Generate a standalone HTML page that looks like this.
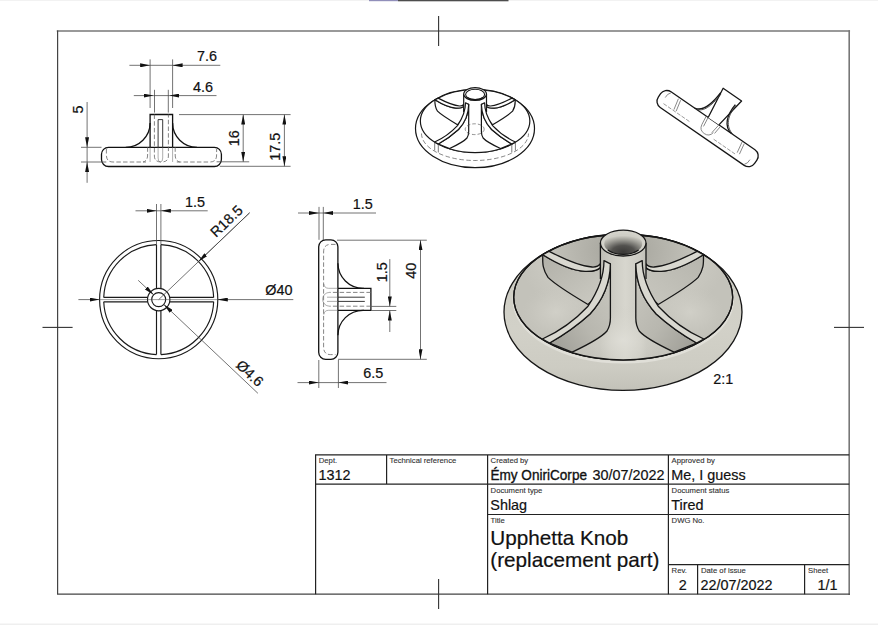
<!DOCTYPE html>
<html><head><meta charset="utf-8">
<style>
html,body{margin:0;padding:0;background:#fff;width:878px;height:625px;overflow:hidden}
svg{display:block}
text{font-family:"Liberation Sans",sans-serif;fill:#111;stroke:#111;stroke-width:0.2px}
.s{font-size:7.7px;fill:#333;stroke:#333;stroke-width:0.12px}
.v{font-size:14.4px}
.d{font-size:14.4px;fill:#111}
</style></head><body>
<svg width="878" height="625" viewBox="0 0 878 625">
<defs>
<marker id="a" viewBox="0 0 10 4" refX="10" refY="2" markerWidth="10" markerHeight="4" markerUnits="userSpaceOnUse" orient="auto-start-reverse"><path d="M0 0 L10 2 L0 4 Z" fill="#111"/></marker>

<linearGradient id="gOuter" x1="0" y1="0" x2="0" y2="1">
 <stop offset="0" stop-color="#cccbc2"/><stop offset="0.6" stop-color="#d2d1c8"/><stop offset="0.85" stop-color="#cdccc3"/><stop offset="1" stop-color="#c3c2b9"/>
</linearGradient>
<radialGradient id="gInner" gradientUnits="userSpaceOnUse" cx="623" cy="250" r="105" gradientTransform="translate(623 250) scale(1 0.75) translate(-623 -250)">
 <stop offset="0" stop-color="#a2a199"/><stop offset="0.45" stop-color="#b7b6ae"/><stop offset="0.8" stop-color="#c8c7bf"/><stop offset="1" stop-color="#c3c2ba"/>
</radialGradient>
<linearGradient id="gFace" x1="0" y1="0" x2="1" y2="1">
 <stop offset="0" stop-color="#b1b0a8"/><stop offset="1" stop-color="#cccbc3"/>
</linearGradient>
<linearGradient id="gFaceR" x1="1" y1="0" x2="0" y2="1">
 <stop offset="0" stop-color="#b6b5ad"/><stop offset="1" stop-color="#c8c7bf"/>
</linearGradient>
<linearGradient id="gLL" x1="1" y1="0" x2="0" y2="1">
 <stop offset="0" stop-color="#cac9c1"/><stop offset="0.55" stop-color="#b8b7af"/><stop offset="1" stop-color="#9c9b94"/>
</linearGradient>
<linearGradient id="gLR" x1="0" y1="0" x2="1" y2="1">
 <stop offset="0" stop-color="#cac9c1"/><stop offset="0.55" stop-color="#b8b7af"/><stop offset="1" stop-color="#9c9b94"/>
</linearGradient>
<radialGradient id="gHi">
 <stop offset="0" stop-color="#d3d2ca" stop-opacity="0.85"/><stop offset="0.6" stop-color="#cecdc5" stop-opacity="0.4"/><stop offset="1" stop-color="#c8c7bf" stop-opacity="0"/>
</radialGradient>
<linearGradient id="gStem" gradientUnits="userSpaceOnUse" x1="572" y1="0" x2="674.4" y2="0">
 <stop offset="0" stop-color="#c6c5bd"/><stop offset="0.27" stop-color="#bdbcb4"/><stop offset="0.4" stop-color="#cdccc4"/><stop offset="0.52" stop-color="#d7d6ce"/><stop offset="0.66" stop-color="#cccbc3"/><stop offset="0.73" stop-color="#c0bfb7"/><stop offset="1" stop-color="#c7c6be"/>
</linearGradient>
<radialGradient id="gFloor" cx="0.5" cy="0.72" r="0.5">
 <stop offset="0" stop-color="#dfded7" stop-opacity="0.9"/><stop offset="0.6" stop-color="#d7d6ce" stop-opacity="0.4"/><stop offset="1" stop-color="#cdccc4" stop-opacity="0"/>
</radialGradient>
<radialGradient id="gHole" cx="0.5" cy="0.85" r="0.75" fx="0.5" fy="0.9">
 <stop offset="0" stop-color="#3a3937"/><stop offset="0.4" stop-color="#52514e"/><stop offset="0.75" stop-color="#9e9d96"/><stop offset="1" stop-color="#cfcec6"/>
</radialGradient>
</defs>

<rect x="0" y="0" width="878" height="625" fill="#fff"/>
<!-- top scrollbar strip -->
<rect x="0" y="0" width="878" height="1" fill="#f2f2f2"/>
<rect x="369" y="0" width="29" height="1.2" fill="#918fba"/>
<rect x="398" y="0" width="110.5" height="1.3" fill="#4d4d4d"/>
<!-- bottom strip -->
<rect x="0" y="623.5" width="878" height="1.5" fill="#efefef"/>

<!-- frame -->
<g fill="none" stroke-linecap="square">
<path d="M57.6 31 H849.2" stroke="#777" stroke-width="1.7"/>
<path d="M849.2 31 V594.2" stroke="#777" stroke-width="1.6"/>
<path d="M57.6 31 V594.2 H849.2" stroke="#444" stroke-width="1.2"/>
</g>
<!-- centre marks -->
<g stroke="#333" stroke-width="1.1" fill="none">
<path d="M438.6 16 V46"/>
<path d="M438.6 579 V609"/>
<path d="M42.5 327.4 H72.6"/>
<path d="M834 327.4 H864"/>
</g>

<!-- title block -->
<g stroke="#222" stroke-width="1.2" fill="none">
<path d="M315.6 594.2 V454.9 H849.2"/>
<path d="M386.6 454.9 V484.1"/>
<path d="M487.6 454.9 V594.2"/>
<path d="M668.4 454.9 V594.2"/>
<path d="M315.6 484.1 H849.2"/>
<path d="M487.6 514.5 H849.2"/>
<path d="M668.4 564.7 H849.2"/>
<path d="M697.6 564.7 V594.2"/>
<path d="M804.6 564.7 V594.2"/>
</g>
<text class="s" x="318.8" y="463.4">Dept.</text>
<text class="v" x="318.6" y="479.6">1312</text>
<text class="s" x="389.6" y="463.1">Technical reference</text>
<text class="s" x="490.6" y="463.4">Created by</text>
<text class="v" x="490.4" y="479.8" textLength="96.6" lengthAdjust="spacingAndGlyphs" style="stroke:#111;stroke-width:0.35">Émy OniriCorpe</text>
<text class="v" x="592.4" y="479.8">30/07/2022</text>
<text class="s" x="671.6" y="463.4">Approved by</text>
<text class="v" x="671.2" y="479.8">Me, I guess</text>
<text class="s" x="490.6" y="493">Document type</text>
<text class="v" x="490.3" y="509.6">Shlag</text>
<text class="s" x="671.6" y="493">Document status</text>
<text class="v" x="671.2" y="509.6">Tired</text>
<text class="s" x="490.6" y="523">Title</text>
<text style="font-size:20.7px" x="490.3" y="545.2">Upphetta Knob</text>
<text style="font-size:20.7px" x="490.3" y="566.6">(replacement part)</text>
<text class="s" x="671.6" y="523">DWG No.</text>
<text class="s" x="671.6" y="573">Rev.</text>
<text class="v" x="678.8" y="590">2</text>
<text class="s" x="701" y="573">Date of issue</text>
<text class="v" x="700.5" y="590">22/07/2022</text>
<text class="s" x="808" y="573">Sheet</text>
<text class="v" x="817.5" y="590">1/1</text>


<!-- ===== View 1: front view ===== -->
<g fill="none" stroke="#111" stroke-width="1.3">
<path d="M150.1 147.3 V114.5 H172.6 V147.3"/>
<path d="M150.1 123 A24.4 24.4 0 0 1 125.7 147.3"/>
<path d="M172.6 123 A24.4 24.4 0 0 0 197 147.3"/>
<rect x="101.5" y="147.3" width="119.9" height="19.2" rx="7" ry="7"/>
</g>
<g fill="none" stroke="#222" stroke-width="0.9">
<path d="M158.1 147.3 V119.6 H162.7 V147.3"/>
</g>
<g fill="none" stroke="#777" stroke-width="0.6">
<path d="M150.1 147.3 V162 M172.6 147.3 V162"/>
<path d="M158.1 147.3 V158 Q158.1 162 160.4 162 Q162.7 162 162.7 158 V147.3"/>
</g>
<g fill="none" stroke="#666" stroke-width="0.8" stroke-dasharray="4.5 2.2">
<path d="M154.4 114.5 V156 Q154.4 162 161.4 162 Q168.4 162 168.4 156 V114.5"/>
<path d="M106.4 149 V155 Q106.4 162 113 162 H146"/>
<path d="M176.8 162 H210 Q216.6 162 216.6 155 V149"/>
<path d="M147.6 147.3 V155 Q147.6 161 143 162"/>
<path d="M175.2 147.3 V155 Q175.2 161 179.8 162"/>
</g>
<!-- dims view1 -->
<g fill="none" stroke="#444" stroke-width="0.75">
<path d="M150.1 59.4 V108"/><path d="M172.6 59.4 V108"/>
<path d="M154.5 89.8 V112.6"/><path d="M168.3 89.8 V112.6"/>
<path d="M129.4 65.3 H150.1" marker-end="url(#a)"/>
<path d="M220.3 65.3 H172.6" marker-end="url(#a)"/>
<path d="M150.1 65.3 H172.6"/>
<path d="M133.8 95.6 H153.5" marker-end="url(#a)"/>
<path d="M216.5 95.6 H169.3" marker-end="url(#a)"/>
<path d="M153.5 95.6 H169.3"/>
<path d="M81 147.3 H101.5"/><path d="M81 162 H106.3"/>
<path d="M87.1 102 V147.3" marker-end="url(#a)"/>
<path d="M87.1 182.8 V162" marker-end="url(#a)"/>
<path d="M87.1 147.3 V162"/>
<path d="M179 114.6 H290.6"/>
<path d="M216.6 161.8 H249.2"/>
<path d="M219.8 166.3 H290.6"/>
<path d="M243.2 138 V114.6" marker-end="url(#a)"/>
<path d="M243.2 138 V161.8" marker-end="url(#a)"/>
<path d="M284.4 140 V114.6" marker-end="url(#a)"/>
<path d="M284.4 140 V166.3" marker-end="url(#a)"/>
</g>
<g class="d">
<text x="217" y="61.3" text-anchor="end">7.6</text>
<text x="213.1" y="91.6" text-anchor="end">4.6</text>
<text transform="translate(83 109.6) rotate(-90)" text-anchor="middle">5</text>
<text transform="translate(239.1 138.3) rotate(-90)" text-anchor="middle">16</text>
<text transform="translate(280.2 146.7) rotate(-90)" text-anchor="middle">17.5</text>
</g>

<!-- ===== View 2: top view ===== -->
<g fill="none" stroke="#1a1a1a" stroke-width="1.15">
<circle cx="158.7" cy="299.6" r="59.1"/>
<circle cx="158.7" cy="299.6" r="11.2"/>
<circle cx="158.7" cy="299.6" r="7"/>
<!-- inner arcs between spokes: r=55, spoke half-width 2.2 -> offset angle -->
<path d="M160.9 244.64 A55 55 0 0 1 213.66 297.4"/>
<path d="M213.66 301.8 A55 55 0 0 1 160.9 354.56"/>
<path d="M156.5 354.56 A55 55 0 0 1 103.74 301.8"/>
<path d="M103.74 297.4 A55 55 0 0 1 156.5 244.64"/>
<!-- spokes -->
<path d="M156.5 244.64 V288.63 M160.9 244.64 V288.63"/>
<path d="M156.5 310.57 V354.56 M160.9 310.57 V354.56"/>
<path d="M103.74 297.4 H147.73 M103.74 301.8 H147.73"/>
<path d="M169.67 297.4 H213.66 M169.67 301.8 H213.66"/>
</g>
<g fill="none" stroke="#444" stroke-width="0.75">
<path d="M156.5 204 V244.6"/><path d="M160.9 204 V244.6"/>
<path d="M135.5 210.8 H156.5" marker-end="url(#a)"/>
<path d="M207.7 210.8 H160.9" marker-end="url(#a)"/>
<path d="M156.5 210.8 H160.9"/>
<path d="M99.6 299.6 H217.8" stroke-width="0.5"/>
<path d="M78.4 299.6 H99.6" marker-end="url(#a)"/>
<path d="M293.3 299.6 H217.8" marker-end="url(#a)"/>
<path d="M158.7 299.6 L249.6 212.8"/>
<path d="M249.6 212.8 L198.5 261.6" marker-end="url(#a)"/>
<path d="M138.2 280.3 L153.6 294.8" marker-end="url(#a)"/>
<path d="M257.9 393.3 L163.8 304.4" marker-end="url(#a)"/>
</g>
<g class="d">
<text x="205.1" y="206.8" text-anchor="end">1.5</text>
<text x="292.4" y="294.8" text-anchor="end">Ø40</text>
<text transform="translate(229.8 224.8) rotate(-43.7)" text-anchor="middle">R18.5</text>
<text transform="translate(246.5 376.9) rotate(43.4)" text-anchor="middle">Ø4.6</text>
</g>

<!-- ===== View 3: side view ===== -->
<g fill="none" stroke="#111" stroke-width="1.3">
<rect x="318.7" y="239.8" width="19.2" height="119.5" rx="7" ry="7"/>
<path d="M337.9 263.3 A25.2 25.2 0 0 0 363.1 288.3 H370.9 V310.3 H363.1 A25.2 25.2 0 0 0 337.9 335.3"/>
<path d="M337.9 288.3 H364 M337.9 310.3 H364"/>
</g>
<g fill="none" stroke="#222" stroke-width="0.9">
<path d="M337.9 297.2 H364.8 M337.9 301.4 H364.8"/>
</g>
<g fill="none" stroke="#777" stroke-width="0.6">
<path d="M337.9 297.2 H327 M337.9 301.4 H327"/>
<path d="M337.9 288.3 H328.5 Q324.5 288.3 323.8 284"/>
<path d="M337.9 310.3 H328.5 Q324.5 310.3 323.8 314.6"/>
<path d="M329.5 292.4 A6.9 6.9 0 0 0 329.5 306.2"/>
</g>
<g fill="none" stroke="#666" stroke-width="0.8" stroke-dasharray="4.5 2.2">
<path d="M335.5 244.4 H330.5 Q323.6 244.4 323.6 252 V347 Q323.6 354.6 330.5 354.6 H335.5"/>
<path d="M370.9 292.4 H329.5 M370.9 306.2 H329.5"/>
</g>
<g fill="none" stroke="#444" stroke-width="0.75">
<path d="M319 206.9 V239.8"/><path d="M323.3 206.9 V240"/>
<path d="M298 213 H319" marker-end="url(#a)"/>
<path d="M376 213 H323.3" marker-end="url(#a)"/>
<path d="M319 213 H323.3"/>
<path d="M337 240.2 H426.8"/><path d="M338 359.3 H426.8"/>
<path d="M420.5 300 V240.2" marker-end="url(#a)"/>
<path d="M420.5 300 V359.3" marker-end="url(#a)"/>
<path d="M371.3 306.4 H396.3"/><path d="M371.3 310.5 H396.3"/>
<path d="M389.8 259.1 V306.4" marker-end="url(#a)"/>
<path d="M389.8 332 V310.5" marker-end="url(#a)"/>
<path d="M318.8 360 V388"/><path d="M338.4 360 V388"/>
<path d="M297.5 382.6 H318.8" marker-end="url(#a)"/>
<path d="M386.5 382.6 H338.4" marker-end="url(#a)"/>
<path d="M318.8 382.6 H338.4"/>
</g>
<g class="d">
<text x="372.8" y="208.5" text-anchor="end">1.5</text>
<text transform="translate(416.2 270.7) rotate(-90)" text-anchor="middle">40</text>
<text transform="translate(387.2 272.3) rotate(-90)" text-anchor="middle">1.5</text>
<text x="383.3" y="378" text-anchor="end">6.5</text>
</g>
<!-- ===== View 5: rotated side ===== -->
<g transform="translate(707.6 128.6) rotate(34.6)">
<g fill="none" stroke="#161616" stroke-width="1.3" stroke-linejoin="round">
<rect x="-58.5" y="-9.5" width="117" height="19" rx="7.5" ry="7.5" fill="#fff"/>
<path d="M-5.9 -9.5 L-10.1 -42 H12.3 L7.2 -9.5" fill="#fff"/>
<path d="M-9.6 -37 C-10.5 -20 -14 -11 -22.5 -9.5"/>
<path d="M9.2 -35.5 C8 -22 12 -11 22.6 -9.5"/>
</g>
<g fill="none" stroke="#333" stroke-width="0.75">
<path d="M-8.6 -36 C-9.8 -19 -13 -12 -20 -9.5"/>
<path d="M10.2 -35.5 C9.2 -22 13 -12 24.5 -9.5"/>
</g>
<g fill="none" stroke="#666" stroke-width="0.7">
<path d="M-5.9 -9.5 L-4.6 0.5 M-8.2 -9.5 L-7 0 M7.2 -9.5 L5.8 1 M9.4 -9.5 L8.5 0"/>
<path d="M-7 0 Q-6 6 0 6 Q6 6 7 0"/>
<path d="M-50.5 -8.5 Q-53 -6 -52.5 -1.5 M50.5 8.5 Q53 6 52.5 1.5"/>
<path d="M-41 -8 L-38.5 3.5 M-38.3 -8 L-35.8 3.5 M36 -8.5 L38 3 M38.7 -8.5 L40.7 3"/>
</g>
<g fill="none" stroke="#777" stroke-width="0.65" stroke-dasharray="4 1.5">
<path d="M-50.5 4.5 H-19 M11 5.3 H37"/>
</g>
</g>
<g transform="translate(163.5 -27.5) scale(0.5)">
<ellipse cx="623.0" cy="312.1" rx="119.0" ry="78.2" fill="#fff" stroke="#161616" stroke-width="2.4"/>
<ellipse cx="623.2" cy="297.2" rx="109.5" ry="62.7" fill="#fff" stroke="#161616" stroke-width="2.4"/>
<path d="M516 322 A107 54 0 0 0 730 322" fill="none" stroke="#555" stroke-width="1.4" stroke-dasharray="9 5"/>
<path d="M542.8 254.7 C556 263 570 270.5 585 271.4 C593 271.6 598 270.5 600.4 267.5 L603 290 L588 304.5 C572 295 556 285.4 548 277.4 C543 270 542.4 264.6 542.8 254.7 Z" fill="#fff" stroke="#161616" stroke-width="2.4" stroke-linejoin="round"/>
<path d="M542.8 254.7 L549.2 251.3 C562 258 578 266 592 267 C596 267.2 599 266 600.4 263.7 L600.4 267.5 C598 270.5 593 271.6 585 271.4 C570 270.5 556 263 542.8 254.7 Z" fill="#fff" stroke="#161616" stroke-width="2.4" stroke-linejoin="round"/>
<path d="M 703.40 254.70 C 690.20 263.00 676.20 270.50 661.20 271.40 C 653.20 271.60 648.20 270.50 645.80 267.50 L 643.20 290.00 L 658.20 304.50 C 674.20 295.00 690.20 285.40 698.20 277.40 C 703.20 270.00 703.80 264.60 703.40 254.70 Z" fill="#fff" stroke="#161616" stroke-width="2.4" stroke-linejoin="round"/>
<path d="M 703.40 254.70 L 697.00 251.30 C 684.20 258.00 668.20 266.00 654.20 267.00 C 650.20 267.20 647.20 266.00 645.80 263.70 L 645.80 267.50 C 648.20 270.50 653.20 271.60 661.20 271.40 C 676.20 270.50 690.20 263.00 703.40 254.70 Z" fill="#fff" stroke="#161616" stroke-width="2.4" stroke-linejoin="round"/>
<path d="M600.4 243.1 V300 L610.4 300 V318 C610.4 330 598 342 572 352.6 A109.5 62.7 0 0 0 674.4 352.6 C648 342 635.8 330 635.8 318 V300 H646 V243.1 Z" fill="#fff" stroke="none"/>
<path d="M600.4 243.1 V279 M646 243.1 V279" stroke="#161616" stroke-width="2.4" fill="none"/>
<path d="M610.4 290 V318 C610.4 330 598 342 572 352.6 A109.5 62.7 0 0 0 674.4 352.6 C648 342 635.8 330 635.8 318 V290 Z" fill="#fff" stroke="none"/>
<path d="M572 352.6 A109.5 62.7 0 0 0 674.4 352.6" fill="none" stroke="#161616" stroke-width="2.4"/>
<ellipse cx="623.2" cy="243.1" rx="22.8" ry="12.9" fill="#fff" stroke="#161616" stroke-width="2.4"/>
<ellipse cx="623.2" cy="243.9" rx="19.0" ry="10.4" fill="#fff" stroke="none"/>
<path d="M607.8 250 A19 10.4 0 0 0 638.6 250" fill="none" stroke="#161616" stroke-width="2.16"/>
<path d="M610.4 263.8 C610 285 603 300 590 314 C578 325 562 336 549.6 343 L572 352.2 C585 346 600 339 607 331 C610 326 610.4 322 610.4 318 Z" fill="#fff" stroke="#161616" stroke-width="2.4" stroke-linejoin="round"/>
<path d="M604 260.6 C604 275 599 290 588 306.2 C577 318 560 331 542.4 339 L549.6 343 C562 336 578 325 590 314 C603 300 610 285 610.4 263.8 Z" fill="#fff" stroke="#161616" stroke-width="2.4" stroke-linejoin="round"/>
<path d="M 635.80 263.80 C 636.20 285.00 643.20 300.00 656.20 314.00 C 668.20 325.00 684.20 336.00 696.60 343.00 L 674.20 352.20 C 661.20 346.00 646.20 339.00 639.20 331.00 C 636.20 326.00 635.80 322.00 635.80 318.00 Z" fill="#fff" stroke="#161616" stroke-width="2.4" stroke-linejoin="round"/>
<path d="M 642.20 260.60 C 642.20 275.00 647.20 290.00 658.20 306.20 C 669.20 318.00 686.20 331.00 703.80 339.00 L 696.60 343.00 C 684.20 336.00 668.20 325.00 656.20 314.00 C 643.20 300.00 636.20 285.00 635.80 263.80 Z" fill="#fff" stroke="#161616" stroke-width="2.4" stroke-linejoin="round"/>
<ellipse cx="623.2" cy="243.9" rx="19.0" ry="10.4" fill="none" stroke="#161616" stroke-width="2.16"/>
<ellipse cx="622.4" cy="313.4" rx="19" ry="10.8" fill="none" stroke="#555" stroke-width="1.3" stroke-dasharray="7 4"/>
<path d="M542.4 339 V356 M549.6 343 V360 M703.8 339 V356 M696.6 343 V360" fill="none" stroke="#333" stroke-width="1.3"/>
</g>
<g id="shaded">
<ellipse cx="623.0" cy="312.1" rx="119.0" ry="78.2" fill="url(#gOuter)" stroke="#161616" stroke-width="1.3"/>
<ellipse cx="623.2" cy="299.6" rx="109.5" ry="62.7" fill="none" stroke="#e0dfd8" stroke-width="2.6"/>
<ellipse cx="623.2" cy="297.2" rx="109.5" ry="62.7" fill="url(#gInner)" stroke="#161616" stroke-width="1.3"/>
<ellipse cx="556" cy="312" rx="34" ry="26" fill="url(#gHi)"/>
<ellipse cx="690" cy="312" rx="34" ry="26" fill="url(#gHi)"/>
<ellipse cx="623.2" cy="297.2" rx="109.5" ry="62.7" fill="none" stroke="#161616" stroke-width="1.3"/>
<path d="M542.8 254.7 C556 263 570 270.5 585 271.4 C593 271.6 598 270.5 600.4 267.5 L603 290 L588 304.5 C572 295 556 285.4 548 277.4 C543 270 542.4 264.6 542.8 254.7 Z" fill="url(#gFace)" stroke="#161616" stroke-width="1.3" stroke-linejoin="round"/>
<path d="M542.8 254.7 L549.2 251.3 C562 258 578 266 592 267 C596 267.2 599 266 600.4 263.7 L600.4 267.5 C598 270.5 593 271.6 585 271.4 C570 270.5 556 263 542.8 254.7 Z" fill="#d9d8d0" stroke="#161616" stroke-width="1.3" stroke-linejoin="round"/>
<path d="M 703.40 254.70 C 690.20 263.00 676.20 270.50 661.20 271.40 C 653.20 271.60 648.20 270.50 645.80 267.50 L 643.20 290.00 L 658.20 304.50 C 674.20 295.00 690.20 285.40 698.20 277.40 C 703.20 270.00 703.80 264.60 703.40 254.70 Z" fill="url(#gFaceR)" stroke="#161616" stroke-width="1.3" stroke-linejoin="round"/>
<path d="M 703.40 254.70 L 697.00 251.30 C 684.20 258.00 668.20 266.00 654.20 267.00 C 650.20 267.20 647.20 266.00 645.80 263.70 L 645.80 267.50 C 648.20 270.50 653.20 271.60 661.20 271.40 C 676.20 270.50 690.20 263.00 703.40 254.70 Z" fill="#d9d8d0" stroke="#161616" stroke-width="1.3" stroke-linejoin="round"/>
<path d="M600.4 243.1 V300 L610.4 300 V318 C610.4 330 598 342 572 352.6 A109.5 62.7 0 0 0 674.4 352.6 C648 342 635.8 330 635.8 318 V300 H646 V243.1 Z" fill="url(#gStem)" stroke="none"/>
<path d="M600.4 243.1 V279 M646 243.1 V279" stroke="#161616" stroke-width="1.3" fill="none"/>
<path d="M610.4 290 V318 C610.4 330 598 342 572 352.6 A109.5 62.7 0 0 0 674.4 352.6 C648 342 635.8 330 635.8 318 V290 Z" fill="url(#gFloor)" stroke="none"/>
<path d="M572 352.6 A109.5 62.7 0 0 0 674.4 352.6" fill="none" stroke="#161616" stroke-width="1.3"/>
<ellipse cx="623.2" cy="243.1" rx="22.8" ry="12.9" fill="#d3d2ca" stroke="#161616" stroke-width="1.3"/>
<ellipse cx="623.2" cy="243.9" rx="19.0" ry="10.4" fill="url(#gHole)" stroke="none"/>
<path d="M607.8 250 A19 10.4 0 0 0 638.6 250" fill="none" stroke="#161616" stroke-width="1.1700000000000002"/>
<path d="M610.4 263.8 C610 285 603 300 590 314 C578 325 562 336 549.6 343 L572 352.2 C585 346 600 339 607 331 C610 326 610.4 322 610.4 318 Z" fill="url(#gLL)" stroke="#161616" stroke-width="1.3" stroke-linejoin="round"/>
<path d="M604 260.6 C604 275 599 290 588 306.2 C577 318 560 331 542.4 339 L549.6 343 C562 336 578 325 590 314 C603 300 610 285 610.4 263.8 Z" fill="#d9d8d0" stroke="#161616" stroke-width="1.3" stroke-linejoin="round"/>
<path d="M 635.80 263.80 C 636.20 285.00 643.20 300.00 656.20 314.00 C 668.20 325.00 684.20 336.00 696.60 343.00 L 674.20 352.20 C 661.20 346.00 646.20 339.00 639.20 331.00 C 636.20 326.00 635.80 322.00 635.80 318.00 Z" fill="url(#gLR)" stroke="#161616" stroke-width="1.3" stroke-linejoin="round"/>
<path d="M 642.20 260.60 C 642.20 275.00 647.20 290.00 658.20 306.20 C 669.20 318.00 686.20 331.00 703.80 339.00 L 696.60 343.00 C 684.20 336.00 668.20 325.00 656.20 314.00 C 643.20 300.00 636.20 285.00 635.80 263.80 Z" fill="#d9d8d0" stroke="#161616" stroke-width="1.3" stroke-linejoin="round"/>
</g>
<text x="713.2" y="383.6" style="font-size:14.4px;fill:#111">2:1</text>
</svg>
</body></html>
